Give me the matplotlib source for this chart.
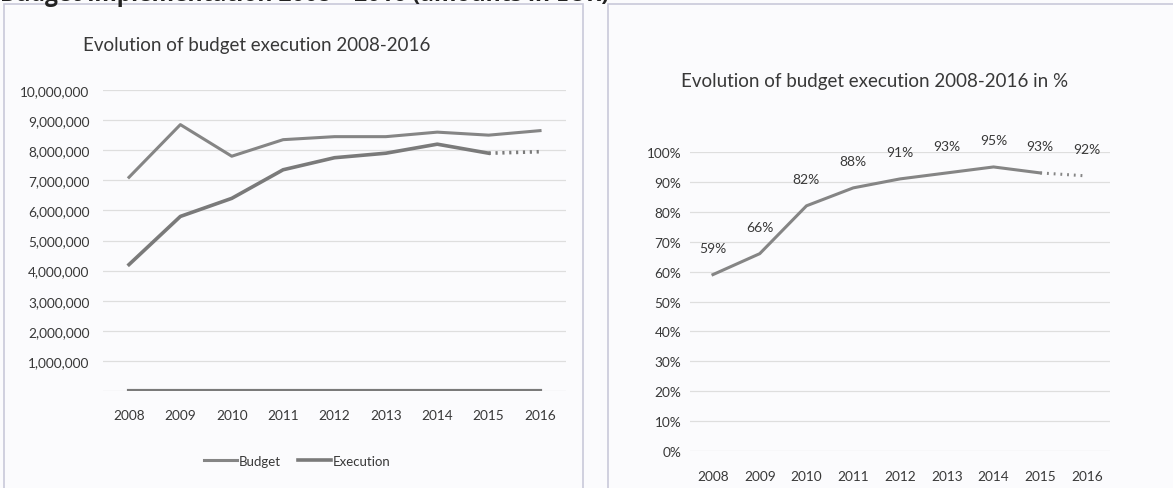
""" Budget execution 2008-2016, two panels (scan look-alike) """

import matplotlib
matplotlib.use("Agg")
import matplotlib.pyplot as plt
from matplotlib.patches import Rectangle
from matplotlib.ticker import FuncFormatter

years = [2008, 2009, 2010, 2011, 2012, 2013, 2014, 2015, 2016]
budget = [7100000, 8850000, 7800000, 8350000, 8450000, 8450000, 8600000, 8500000, 8650000]
execution = [4200000, 5800000, 6400000, 7350000, 7750000, 7900000, 8200000, 7900000, 7950000]
zero_line = [0, 0, 0, 0, 0, 0, 0, 0, 0]
pct = [0.59, 0.66, 0.82, 0.88, 0.91, 0.93, 0.95, 0.93, 0.92]
pct_labels = ["59%", "66%", "82%", "88%", "91%", "93%", "95%", "93%", "92%"]

heading = "Budget implementation 2008 \u2013 2016 (amounts in EUR)"
title_left = "Evolution of budget execution 2008-2016"
title_right = "Evolution of budget execution 2008-2016 in %"

plt.rcParams["font.family"] = ["Lato", "DejaVu Sans"]
TXT = "#383838"
GRID = "#dedede"
LINE = "#858585"

W, H = 1173, 489
fig = plt.figure(figsize=(W / 100, H / 100), dpi=100)
fig.patch.set_facecolor("#fbfbfd")

# panel frames
for x0, x1 in [(4, 583), (608, 1180)]:
    fig.patches.append(Rectangle((x0 / W, -0.05), (x1 - x0) / W, 1.05 - 5 / H,
                                 transform=fig.transFigure, fill=False,
                                 edgecolor="#c9c9d9", lw=1.2))

# heading cut by the top edge, as in the scan
fig.text(0.0, 1 - 1 / H, heading, fontsize=16.5, fontweight="bold", color="#222222",
         ha="left", va="baseline", family=["Open Sans", "DejaVu Sans"])

x = list(range(len(years)))

# ---------- left panel ----------
axl = fig.add_axes([103.3 / W, (H - 392) / H, 462.4 / W, 301 / H])
axl.plot(x, zero_line, color="#7a7a7a", lw=3)
axl.plot(x, budget, color=LINE, lw=2.2, label="Budget")
axl.plot(x[:8], execution[:8], color="#7a7a7a", lw=2.6, label="Execution")
axl.plot(x[7:], execution[7:], color="#7a7a7a", lw=2.6, ls=(0, (0.6, 1.3)))
axl.set_xlim(-0.5, len(years) - 0.5)
axl.set_ylim(0, 10000000)
axl.set_yticks(range(0, 10000001, 1000000))
axl.yaxis.set_major_formatter(FuncFormatter(lambda v, p: "" if v == 0 else f"{int(v):,}"))
axl.set_xticks(x)
axl.set_xticklabels(years)
axl.tick_params(axis="y", pad=10)
axl.tick_params(axis="x", pad=13)
axl.legend(loc="center", bbox_to_anchor=(194 / 462.4, -70 / 301), ncol=2, frameon=False,
           fontsize=9.5, handlelength=2.5, handletextpad=0.15, columnspacing=1.3,
           labelcolor=TXT)

# ---------- right panel ----------
axr = fig.add_axes([689.6 / W, (H - 452) / H, 420.8 / W, 299 / H])
axr.plot(x[:8], pct[:8], color=LINE, lw=2.2)
axr.plot(x[7:], pct[7:], color=LINE, lw=2.2, ls=(0, (0.6, 1.6)))
for xi, v, lab in zip(x, pct, pct_labels):
    axr.annotate(lab, (xi, v), xytext=(0, 27), textcoords="offset pixels",
                 ha="center", va="center", fontsize=10, color=TXT, annotation_clip=False)
axr.set_xlim(-0.5, len(years) - 0.5)
axr.set_ylim(0, 1.0)
axr.set_yticks([i / 10 for i in range(11)])
axr.yaxis.set_major_formatter(FuncFormatter(lambda v, p: f"{v:.0%}"))
axr.set_xticks(x)
axr.set_xticklabels(years)
axr.tick_params(axis="y", pad=6)
axr.tick_params(axis="x", pad=14)

for ax in (axl, axr):
    ax.set_facecolor("none")
    for s in ax.spines.values():
        s.set_visible(False)
    ax.tick_params(length=0, colors=TXT, labelsize=9.8)
    ax.grid(axis="y", color=GRID, lw=0.9)
    ax.set_axisbelow(True)

# chart titles
fig.text(257 / W, 1 - 46 / H, title_left, fontsize=13.5, color=TXT, ha="center", va="center")
fig.text(875 / W, 1 - 82 / H, title_right, fontsize=13.5, color=TXT, ha="center", va="center")

fig.savefig("out.png", dpi=100)
